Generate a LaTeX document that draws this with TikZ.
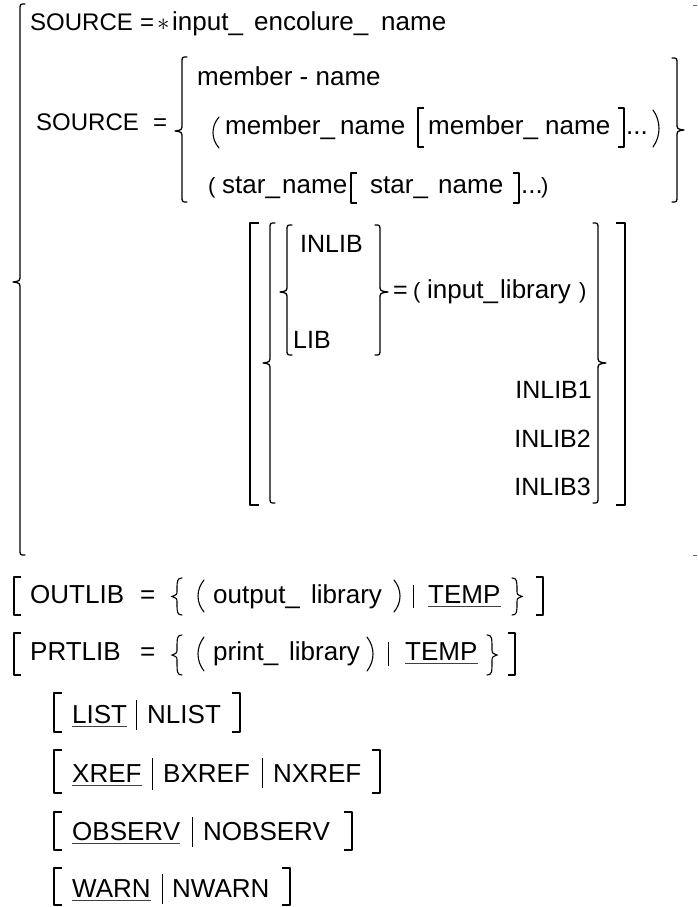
\documentclass[tikz,border=0pt]{standalone}
\usepackage{fontspec}
\setmainfont{Liberation Sans}
\tikzset{
  txt/.style={anchor=base west,inner sep=0pt,font=\fontsize{#1}{#1}\selectfont},
  txt/.default=25,
  rtxt/.style={anchor=base east,inner sep=0pt,font=\fontsize{#1}{#1}\selectfont},
  rtxt/.default=25,
  delim/.style={line width=1.3pt,line cap=round,line join=round},
  pardelim/.style={line width=1.1pt,line cap=round},
  vbar/.style={line width=1pt},
  uline/.style={line width=0.9pt,black!75},
  tick/.style={line width=1pt,black!60},
}
% left curly brace: x, top, bottom, tip y, tip depth
\newcommand\LBr[5]{\draw[delim] ({#1+5},#2) .. controls (#1,#2) .. (#1,{#2+6}) -- (#1,{#4-7}) .. controls (#1,{#4-1}) .. ({#1-#5},#4) .. controls (#1,{#4+1}) .. (#1,{#4+7}) -- (#1,{#3-6}) .. controls (#1,#3) .. ({#1+5},#3);}
% right curly brace: x, top, bottom, tip y, tip depth
\newcommand\RBr[5]{\draw[delim] ({#1-5},#2) .. controls (#1,#2) .. (#1,{#2+6}) -- (#1,{#4-7}) .. controls (#1,{#4-1}) .. ({#1+#5},#4) .. controls (#1,{#4+1}) .. (#1,{#4+7}) -- (#1,{#3-6}) .. controls (#1,#3) .. ({#1-5},#3);}
% square brackets: x, top, bottom, tick length
\newcommand\LBk[4]{\draw[delim,line cap=butt] ({#1+#4},#2) -- (#1,#2) -- (#1,#3) -- ({#1+#4},#3);}
\newcommand\RBk[4]{\draw[delim,line cap=butt] ({#1-#4},#2) -- (#1,#2) -- (#1,#3) -- ({#1-#4},#3);}
% tall parentheses: outer x, top, bottom
\newcommand\LPar[3]{\draw[pardelim] ({#1+8},#2) .. controls (#1,{#2+0.3*(#3-#2)}) and (#1,{#2+0.7*(#3-#2)}) .. ({#1+8},#3);}
\newcommand\RPar[3]{\draw[pardelim] ({#1-8},#2) .. controls (#1,{#2+0.3*(#3-#2)}) and (#1,{#2+0.7*(#3-#2)}) .. ({#1-8},#3);}
% small serif-like braces: x, top, bottom
\newcommand\SLBr[3]{\draw[pardelim] ({#1+6},#2) .. controls ({#1+1},#2) and ({#1+1},{#2+3}) .. ({#1+1},{(#2+#3)/2-6}) .. controls ({#1+1},{(#2+#3)/2-2}) .. ({#1-4},{(#2+#3)/2}) .. controls ({#1+1},{(#2+#3)/2+2}) .. ({#1+1},{(#2+#3)/2+6}) .. controls ({#1+1},{#3-3}) and ({#1+1},#3) .. ({#1+6},#3);}
\newcommand\SRBr[3]{\draw[pardelim] ({#1-6},#2) .. controls ({#1-1},#2) and ({#1-1},{#2+3}) .. ({#1-1},{(#2+#3)/2-6}) .. controls ({#1-1},{(#2+#3)/2-2}) .. ({#1+4},{(#2+#3)/2}) .. controls ({#1-1},{(#2+#3)/2+2}) .. ({#1-1},{(#2+#3)/2+6}) .. controls ({#1-1},{#3-3}) and ({#1-1},#3) .. ({#1-6},#3);}
\begin{document}
\begin{tikzpicture}[x=1pt,y=-1pt]
\useasboundingbox (0,0) rectangle (697,907);

% ---- SOURCE alternatives ----
\LBr{20}{4}{555}{282}{7}
\draw[tick] (693,6) -- (697,6);
\draw[tick] (693,555) -- (697,555);

\node[txt=24] (s1) at (30,31) {SOURCE};
\node[txt=24] (eq1) at (140,31) {=};
\node[txt=24] (ast) at (157,31) {$\ast$};
\node[txt=26] (in1) at (172,31) {input\_};
\node[txt=26] (en1) at (254,31) {encolure\_};
\node[txt=26] (nm1) at (381,31) {name};

\node[txt=24] (s2) at (36,130) {SOURCE};
\node[txt=24] (eq2) at (153,130) {=};
\LBr{182}{57}{202}{131}{7}
\RBr{677}{58}{202}{130}{7}

\node[txt=26] (m1) at (197,85) {member - name};

\LPar{211}{117}{148}
\node[txt=26] (m2) at (225,134) {member\_};
\node[txt=26] (m3) at (340,134) {name};
\LBk{418}{108}{147}{6}
\node[txt=26] (m4) at (428,134) {member\_};
\node[txt=26] (m5) at (545,134) {name};
\RBk{624}{108}{147}{6}
\node[txt=26] (m6) at (626,134) {...};
\RPar{661}{110}{147}

\node[txt=22] (p1) at (208,193) {(};
\node[txt=26] (st1) at (222,193) {star\_};
\node[txt=26] (st2) at (282,193) {name};
\LBk{351}{173}{203}{6}
\node[txt=26] (st3) at (370,193) {star\_};
\node[txt=26] (st4) at (438,193) {name};
\RBk{519}{173}{203}{6}
\node[txt=26] (st5) at (521,193) {...};
\node[txt=22] (p2) at (541,193) {)};

% ---- library choice ----
\LBk{250}{223}{505}{9}
\LBr{270}{223}{503}{363}{7}
\LBr{287}{225}{355}{292}{7}
\node[txt] (il) at (300,252) {INLIB};
\node[txt] (lb) at (293,348) {LIB};
\RBr{380}{225}{355}{292}{8}
\node[txt] (eq3) at (393,298) {=};
\node[txt=22] (p3) at (413,298) {(};
\node[txt=26] (il2) at (427,298) {input\_};
\node[txt=26] (il3) at (500,298) {library};
\node[txt=22] (p4) at (579,298) {)};
\node[rtxt] (i1) at (592,398) {INLIB1};
\node[rtxt] (i2) at (591,447) {INLIB2};
\node[rtxt] (i3) at (591,495) {INLIB3};
\RBr{598}{223}{503}{363}{8}
\RBk{625}{223}{505}{9}

% ---- OUTLIB ----
\LBk{14}{577}{615}{7}
\node[txt=26] (ol) at (30,603) {OUTLIB};
\node[txt=26] (eq4) at (140,603) {=};
\SLBr{176}{578}{615}
\LPar{196}{580}{612}
\node[txt=26] (ol2) at (213,603) {output\_};
\node[txt=26] (ol3) at (311,603) {library};
\RPar{402}{580}{612}
\draw[vbar] (413,585) -- (413,608);
\node[txt=26] (t1) at (428,603) {TEMP};
\draw[uline] (428,606) -- (t1.base east |- 0,606);
\SRBr{518}{578}{615}
\RBk{543}{577}{615}{7}

% ---- PRTLIB ----
\LBk{14}{633}{675}{7}
\node[txt=26] (pl) at (30,660) {PRTLIB};
\node[txt=26] (eq5) at (140,660) {=};
\SLBr{176}{635}{675}
\LPar{196}{637}{671}
\node[txt=26] (pl2) at (213,660) {print\_};
\node[txt=26] (pl3) at (289,660) {library};
\RPar{375}{637}{671}
\draw[vbar] (388,642) -- (388,666);
\node[txt=26] (t2) at (405,660) {TEMP};
\draw[uline] (405,663) -- (t2.base east |- 0,663);
\SRBr{493}{635}{675}
\RBk{515}{633}{675}{7}

% ---- listing options ----
\LBk{54}{693}{732}{8}
\node[txt=26] (o1) at (72,723) {LIST};
\draw[uline] (72,726) -- (o1.base east |- 0,726);
\draw[vbar] (136,700) -- (136,730);
\node[txt=26] (o2) at (147,723) {NLIST};
\RBk{240}{693}{732}{8}

\LBk{54}{750}{793}{8}
\node[txt=26] (x1) at (72,782) {XREF};
\draw[uline] (72,785) -- (x1.base east |- 0,785);
\draw[vbar] (152,758) -- (152,790);
\node[txt=26] (x2) at (163,782) {BXREF};
\draw[vbar] (262,758) -- (262,788);
\node[txt=26] (x3) at (273,782) {NXREF};
\RBk{380}{750}{793}{8}

\LBk{54}{812}{850}{8}
\node[txt=26] (b1) at (72,840) {OBSERV};
\draw[uline] (72,843) -- (b1.base east |- 0,843);
\draw[vbar] (192,817) -- (192,847);
\node[txt=26] (b2) at (203,840) {NOBSERV};
\RBk{352}{812}{850}{8}

\LBk{54}{868}{905}{8}
\node[txt=26] (w1) at (72,897) {WARN};
\draw[uline] (72,900) -- (w1.base east |- 0,900);
\draw[vbar] (162,874) -- (162,904);
\node[txt=26] (w2) at (172,897) {NWARN};
\RBk{290}{868}{905}{8}
\end{tikzpicture}
\end{document}
